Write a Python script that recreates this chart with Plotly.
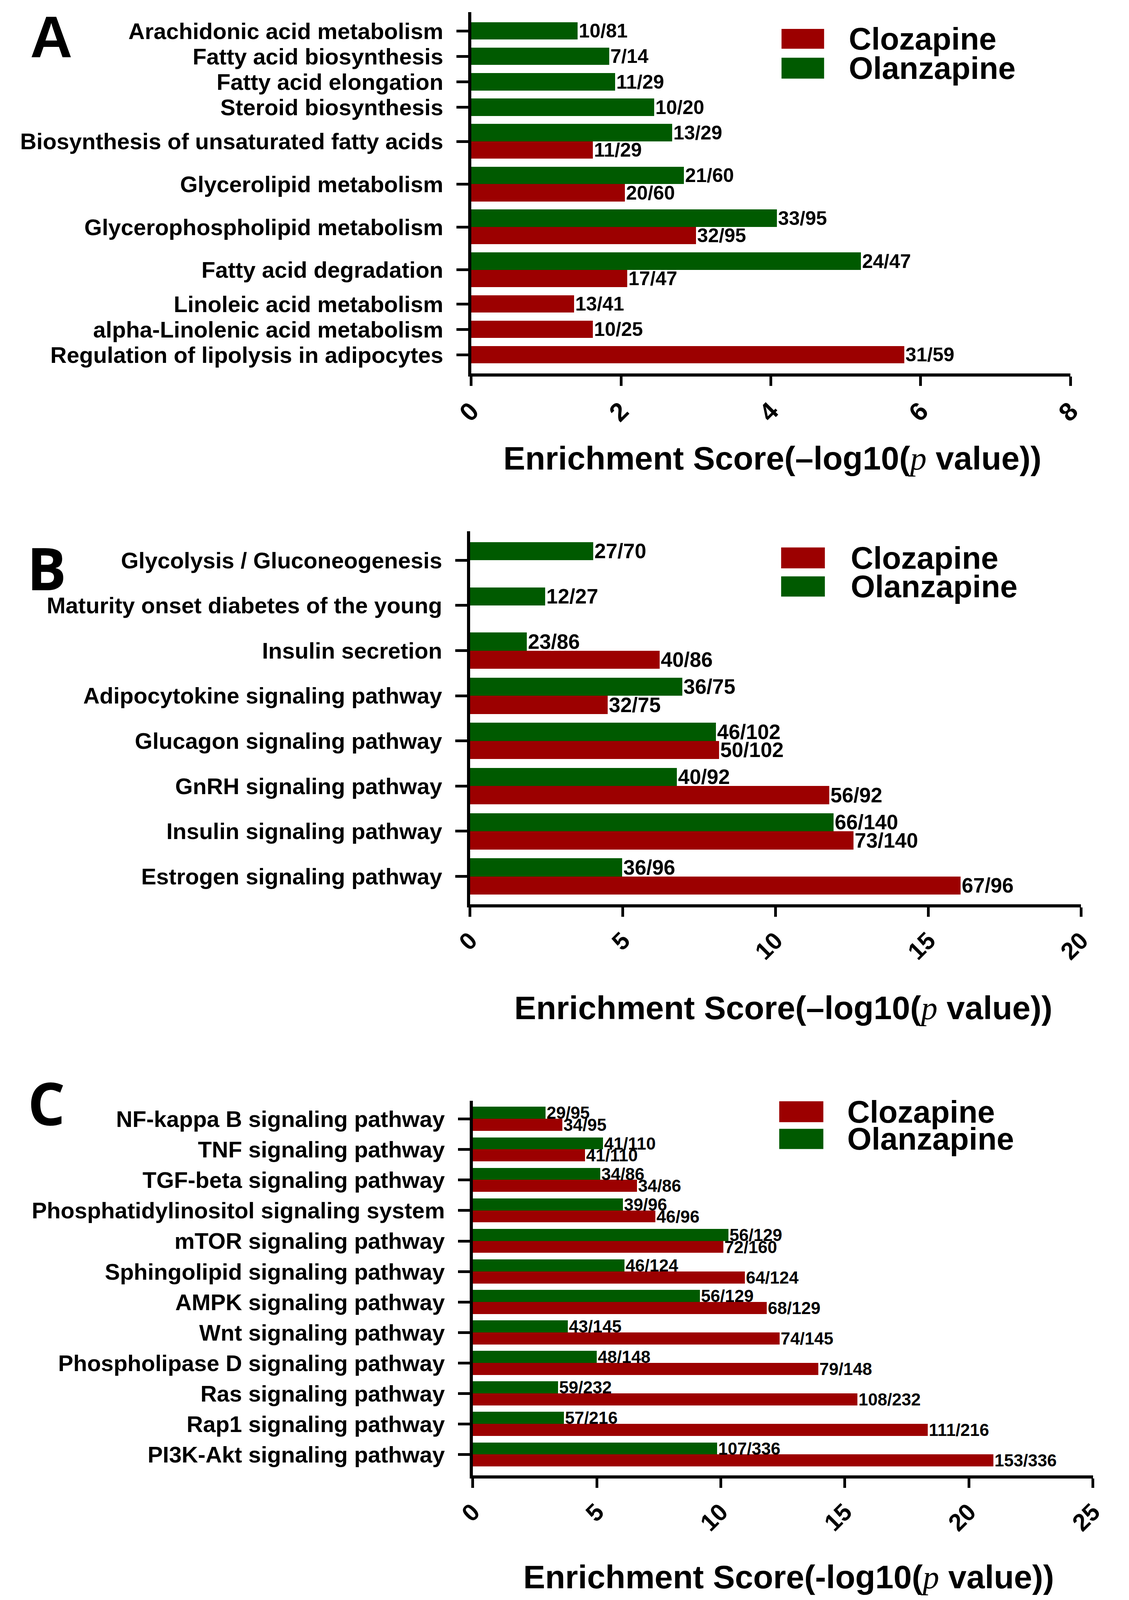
import plotly.graph_objects as go

# ---------------- DATA ----------------
A_categories = ["Arachidonic acid metabolism", "Fatty acid biosynthesis", "Fatty acid elongation",
                "Steroid biosynthesis", "Biosynthesis of unsaturated fatty acids", "Glycerolipid metabolism",
                "Glycerophospholipid metabolism", "Fatty acid degradation", "Linoleic acid metabolism",
                "alpha-Linolenic acid metabolism", "Regulation of lipolysis in adipocytes"]
A_clozapine = [None, None, None, None, 1.62, 2.05, 3.0, 2.08, 1.37, 1.62, 5.78]
A_clozapine_labels = [None, None, None, None, "11/29", "20/60", "32/95", "17/47", "13/41", "10/25", "31/59"]
A_olanzapine = [1.42, 1.84, 1.92, 2.44, 2.68, 2.84, 4.08, 5.2, None, None, None]
A_olanzapine_labels = ["10/81", "7/14", "11/29", "10/20", "13/29", "21/60", "33/95", "24/47", None, None, None]

B_categories = ["Glycolysis / Gluconeogenesis", "Maturity onset diabetes of the young", "Insulin secretion",
                "Adipocytokine signaling pathway", "Glucagon signaling pathway", "GnRH signaling pathway",
                "Insulin signaling pathway", "Estrogen signaling pathway"]
B_clozapine = [None, None, 6.2, 4.5, 8.15, 11.75, 12.55, 16.05]
B_clozapine_labels = [None, None, "40/86", "32/75", "50/102", "56/92", "73/140", "67/96"]
B_olanzapine = [4.03, 2.45, 1.85, 6.95, 8.05, 6.77, 11.9, 4.97]
B_olanzapine_labels = ["27/70", "12/27", "23/86", "36/75", "46/102", "40/92", "66/140", "36/96"]

C_categories = ["NF-kappa B signaling pathway", "TNF signaling pathway", "TGF-beta signaling pathway",
                "Phosphatidylinositol signaling system", "mTOR signaling pathway", "Sphingolipid signaling pathway",
                "AMPK signaling pathway", "Wnt signaling pathway", "Phospholipase D signaling pathway",
                "Ras signaling pathway", "Rap1 signaling pathway", "PI3K-Akt signaling pathway"]
C_clozapine = [3.6, 4.52, 6.62, 7.36, 10.1, 10.96, 11.85, 12.36, 13.93, 15.5, 18.34, 20.98]
C_clozapine_labels = ["34/95", "41/110", "34/86", "46/96", "72/160", "64/124", "68/129", "74/145",
                      "79/148", "108/232", "111/216", "153/336"]
C_olanzapine = [2.93, 5.25, 5.13, 6.05, 10.3, 6.11, 9.15, 3.83, 5.0, 3.43, 3.67, 9.85]
C_olanzapine_labels = ["29/95", "41/110", "34/86", "39/96", "56/129", "46/124", "56/129", "43/145",
                       "48/148", "59/232", "57/216", "107/336"]

A_ticks = [0, 2, 4, 6, 8]
B_ticks = [0, 5, 10, 15, 20]
C_ticks = [0, 5, 10, 15, 20, 25]

series_names = ["Clozapine", "Olanzapine"]

# ---------------- STYLE / LAYOUT ----------------
# The visible browser area is 2889 x 4096 and the page body has an 8px margin,
# so the figure is sized to fit that area and the reference layout is mapped into it.
REF_H = 4822
VIEW_H = 4096
MARGIN = 8
W = 2889 - MARGIN
H = VIEW_H - MARGIN
SY = VIEW_H / REF_H

RED = "#9C0000"
GREEN = "#005A00"
SANS = "Liberation Sans, Arial, sans-serif"


def px_x(p):
    return (p - MARGIN) / W


def px_y(p):
    return min(1.0, 1 - (p * SY - MARGIN) / H)


def positions(olz, cloz, gap, compact):
    pos_o, pos_c, centers = [], [], []
    cursor = 0.0
    for o, c in zip(olz, cloz):
        n = (int(o is not None) + int(c is not None)) if compact else 2
        if n == 2:
            pos_o.append(cursor + 0.5)
            pos_c.append(cursor + 1.5)
        else:
            pos_o.append(cursor + 0.5)
            pos_c.append(cursor + 0.5)
        centers.append(cursor + n / 2)
        cursor += n + gap
    return pos_o, pos_c, centers, cursor - gap


panels = [
    dict(cats=A_categories, cloz=A_clozapine, clozl=A_clozapine_labels, olz=A_olanzapine,
         olzl=A_olanzapine_labels, ticks=A_ticks, gap=0.46, compact=True, padt=0.58, padb=0.56,
         xpx=(1193, 2769), ypx=(37, 1125), label_size=50, tick_size=66, dash="\u2013",
         title_c=(1985, 1381), letter="A", letter_pos=(88, 0, "top"), letter_font=SANS,
         leg_x=(2009, 2121, 2184), leg_red=(87, 147), leg_green=(174, 237)),
    dict(cats=B_categories, cloz=B_clozapine, clozl=B_clozapine_labels, olz=B_olanzapine,
         olzl=B_olanzapine_labels, ticks=B_ticks, gap=0.486, compact=False, padt=0.6, padb=0.53,
         xpx=(1190, 2797), ypx=(1601, 2725), label_size=53, tick_size=62, dash="\u2013",
         title_c=(2014, 3037), letter="B", letter_pos=(76, 1711, "middle"), letter_font="Open Sans, " + SANS,
         leg_x=(2008, 2123, 2189), leg_red=(1650, 1713), leg_green=(1737, 1798)),
    dict(cats=C_categories, cloz=C_clozapine, clozl=C_clozapine_labels, olz=C_olanzapine,
         olzl=C_olanzapine_labels, ticks=C_ticks, gap=0.535, compact=False, padt=0.5, padb=0.74,
         xpx=(1197, 2828), ypx=(3318, 4447), label_size=44, tick_size=62, dash="-",
         title_c=(2028, 4752), letter="C", letter_pos=(76, 3323, "middle"), letter_font="Open Sans, " + SANS,
         leg_x=(2003, 2119, 2180), leg_red=(3319, 3382), leg_green=(3402, 3463)),
]

fig = go.Figure()
layout = dict(width=W, height=H, margin=dict(l=0, r=0, t=0, b=0),
              paper_bgcolor="white", plot_bgcolor="white", showlegend=False,
              barmode="overlay", bargap=0)
annotations = []
shapes = []

for i, p in enumerate(panels):
    k = "" if i == 0 else str(i + 1)
    pos_o, pos_c, centers, total = positions(p["olz"], p["cloz"], p["gap"], p["compact"])
    for name, vals, labs, pos, col in [
        (series_names[0], p["cloz"], p["clozl"], pos_c, RED),
        (series_names[1], p["olz"], p["olzl"], pos_o, GREEN),
    ]:
        ys = [y for y, v in zip(pos, vals) if v is not None]
        xs = [v for v in vals if v is not None]
        ts = [t for t, v in zip(labs, vals) if v is not None]
        fig.add_trace(go.Bar(
            x=xs, y=ys, orientation="h", width=1.0, name=name,
            marker=dict(color=col, line=dict(width=0)),
            text=ts, textposition="outside", constraintext="none", cliponaxis=False,
            textfont=dict(family=SANS, size=p["label_size"], color="black", weight="bold"),
            xaxis="x" + k, yaxis="y" + k, showlegend=False,
        ))
    x0, x1 = p["xpx"]
    y0, y1 = p["ypx"]
    layout["xaxis" + k] = dict(
        domain=[px_x(x0), px_x(x1)], anchor="y" + k, range=[0, p["ticks"][-1]],
        tickmode="array", tickvals=p["ticks"], ticktext=[str(t) for t in p["ticks"]],
        showline=True, linewidth=8, linecolor="black", ticks="outside", ticklen=24,
        tickwidth=7, tickcolor="black", tickangle=-45, showgrid=False, zeroline=False,
        tickfont=dict(family=SANS, size=p["tick_size"], color="black", weight="bold"),
    )
    layout["yaxis" + k] = dict(
        domain=[px_y(y1), px_y(y0)], anchor="x" + k,
        range=[total + p["padb"], -p["padt"]],
        tickmode="array", tickvals=centers, ticktext=p["cats"],
        showline=True, linewidth=8, linecolor="black", ticks="outside", ticklen=30,
        tickwidth=7, tickcolor="black", showgrid=False, zeroline=False,
        ticklabelstandoff=22,
        tickfont=dict(family=SANS, size=58, color="black", weight="bold"),
    )
    tx, ty = p["title_c"]
    annotations.append(dict(
        xref="paper", yref="paper", x=px_x(tx), y=px_y(ty), xanchor="center", yanchor="middle",
        showarrow=False,
        text="Enrichment Score(" + p["dash"] + "log10("
             + "<span style=\"font-family:'Liberation Serif',serif;font-style:italic;font-weight:normal\">p</span>"
             + " value))",
        font=dict(family=SANS, size=84, color="black", weight="bold"),
    ))
    lx, ly, lanchor = p["letter_pos"]
    annotations.append(dict(
        xref="paper", yref="paper", x=px_x(lx), y=px_y(ly), xanchor="center", yanchor=lanchor,
        showarrow=False, text=p["letter"],
        font=dict(family=p["letter_font"], size=150, color="black", weight="bold"),
    ))
    sx0, sx1, txl = p["leg_x"]
    for (ry0, ry1), col, name in [(p["leg_red"], RED, series_names[0]),
                                  (p["leg_green"], GREEN, series_names[1])]:
        shapes.append(dict(type="rect", xref="paper", yref="paper",
                           x0=px_x(sx0), x1=px_x(sx1), y0=px_y(ry1), y1=px_y(ry0),
                           fillcolor=col, line=dict(width=0)))
        annotations.append(dict(
            xref="paper", yref="paper", x=px_x(txl), y=px_y((ry0 + ry1) / 2),
            xanchor="left", yanchor="middle", showarrow=False, text=name,
            font=dict(family=SANS, size=80, color="black", weight="bold"),
        ))

layout["annotations"] = annotations
layout["shapes"] = shapes
fig.update_layout(**layout)
fig.write_html("out.html")
